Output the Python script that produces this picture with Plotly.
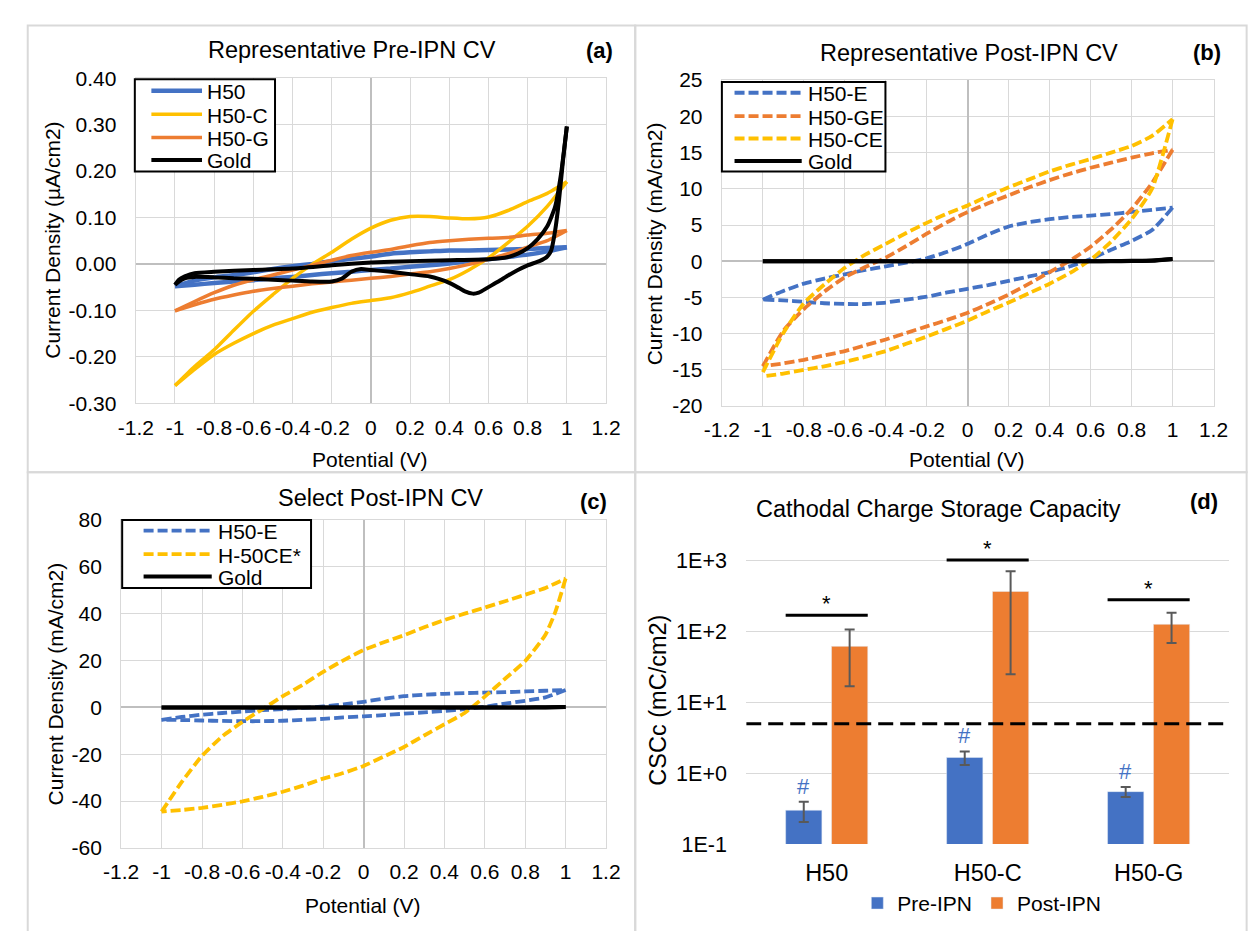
import math
import plotly.graph_objects as go

W, H = 1248, 931
def fx(p):
    return p / W
def fy(p):
    return 1 - p / H

FONT = "Liberation Sans, Arial, sans-serif"
BLUE = "#4472C4"
ORANGE = "#ED7D31"
YELLOW = "#FFC000"
BLACK = "#000000"
GRID = "#D9D9D9"

# ---------------- data ----------------
v_fwd = [-1.0, -0.9, -0.8, -0.7, -0.6, -0.5, -0.4, -0.3, -0.2, -0.1, 0.0,
         0.1, 0.2, 0.3, 0.4, 0.5, 0.6, 0.7, 0.8, 0.9, 1.0]
v_rev = [1.0, 0.9, 0.8, 0.7, 0.6, 0.5, 0.4, 0.3, 0.2, 0.1, 0.0,
         -0.1, -0.2, -0.3, -0.4, -0.5, -0.6, -0.7, -0.8, -0.9, -1.0]

# (a) pre-IPN, uA/cm2
a_h50_fwd = [-0.048, -0.036, -0.029, -0.024, -0.018, -0.011, -0.005, 0.000, 0.006, 0.011, 0.016,
             0.022, 0.025, 0.027, 0.029, 0.029, 0.030, 0.031, 0.032, 0.034, 0.036]
a_h50_rev = [0.036, 0.027, 0.020, 0.015, 0.010, 0.006, 0.001, -0.003, -0.006, -0.010, -0.013,
             -0.017, -0.020, -0.024, -0.028, -0.031, -0.035, -0.038, -0.041, -0.045, -0.048]
a_h50c_fwd = [-0.262, -0.221, -0.185, -0.143, -0.102, -0.066, -0.031, -0.001, 0.025, 0.053, 0.077,
              0.094, 0.102, 0.102, 0.099, 0.097, 0.101, 0.115, 0.134, 0.152, 0.177]
a_h50c_rev = [0.177, 0.124, 0.081, 0.046, 0.013, -0.013, -0.034, -0.048, -0.062, -0.073, -0.079,
              -0.085, -0.094, -0.104, -0.118, -0.132, -0.150, -0.171, -0.195, -0.227, -0.262]
a_h50g_fwd = [-0.101, -0.081, -0.062, -0.046, -0.034, -0.024, -0.013, -0.003, 0.008, 0.018, 0.025,
              0.031, 0.039, 0.046, 0.050, 0.053, 0.055, 0.057, 0.062, 0.066, 0.072]
a_h50g_rev = [0.072, 0.050, 0.036, 0.022, 0.010, -0.001, -0.010, -0.017, -0.022, -0.027, -0.031,
              -0.035, -0.039, -0.043, -0.048, -0.053, -0.059, -0.067, -0.076, -0.088, -0.101]
a_gold_fwd_v = [-1.0, -0.98, -0.95, -0.9, -0.8, -0.6, -0.4, -0.2, 0.0, 0.2, 0.4, 0.6, 0.7, 0.75,
                0.8, 0.85, 0.9, 0.94, 0.97, 1.0]
a_gold_fwd = [-0.045, -0.034, -0.027, -0.020, -0.017, -0.013, -0.010, -0.003, 0.003, 0.006, 0.008,
              0.010, 0.015, 0.022, 0.034, 0.053, 0.081, 0.123, 0.193, 0.296]
a_gold_rev_v = [1.0, 0.98, 0.96, 0.94, 0.92, 0.9, 0.86, 0.8, 0.75, 0.7, 0.65, 0.6, 0.55, 0.52, 0.48,
                0.45, 0.4, 0.35, 0.3, 0.2, 0.1, 0.0, -0.05, -0.1, -0.15, -0.2, -0.3, -0.4, -0.5,
                -0.6, -0.7, -0.8, -0.9, -0.95, -0.98, -1.0]
a_gold_rev = [0.296, 0.221, 0.137, 0.071, 0.029, 0.016, 0.006, -0.003, -0.013, -0.025, -0.038,
              -0.050, -0.062, -0.064, -0.059, -0.052, -0.041, -0.033, -0.027, -0.022, -0.017,
              -0.013, -0.011, -0.017, -0.032, -0.038, -0.038, -0.036, -0.034, -0.032, -0.031,
              -0.029, -0.028, -0.031, -0.038, -0.045]

# (b) post-IPN, mA/cm2
b_e_fwd = [-5.3, -4.1, -3.1, -2.4, -1.8, -1.2, -0.7, -0.2, 0.4, 1.3, 2.4,
           3.7, 4.8, 5.4, 5.8, 6.1, 6.3, 6.5, 6.8, 7.1, 7.4]
b_e_rev = [7.4, 4.3, 2.8, 1.6, 0.3, -0.7, -1.5, -2.1, -2.7, -3.3, -3.8,
           -4.3, -4.9, -5.3, -5.7, -5.9, -5.9, -5.8, -5.6, -5.4, -5.3]
b_ge_fwd = [-14.5, -9.6, -6.6, -4.2, -2.2, -0.8, 0.5, 2.1, 3.8, 5.4, 6.8,
            8.0, 9.1, 10.2, 11.2, 12.1, 12.9, 13.6, 14.3, 14.9, 15.4]
b_ge_rev = [15.4, 10.8, 7.2, 4.4, 2.0, 0.1, -1.5, -3.1, -4.6, -5.9, -7.1,
            -8.1, -9.0, -9.9, -10.8, -11.6, -12.4, -13.0, -13.6, -14.1, -14.5]
b_ce_fwd = [-15.3, -9.9, -5.8, -3.2, -0.9, 0.9, 2.4, 3.9, 5.3, 6.6, 7.7,
            9.0, 10.2, 11.3, 12.4, 13.3, 14.1, 15.0, 15.9, 17.3, 19.6]
b_ce_rev = [19.6, 10.0, 5.8, 2.7, 0.2, -1.6, -3.1, -4.4, -5.7, -6.9, -8.2,
            -9.3, -10.4, -11.4, -12.4, -13.2, -13.9, -14.5, -15.0, -15.5, -15.9]
b_gold_fwd = [0.0, 0.0, 0.0, 0.0, 0.0, 0.0, 0.0, 0.0, 0.0, 0.0, 0.0,
              0.0, 0.0, 0.0, 0.0, 0.0, 0.0, 0.02, 0.05, 0.1, 0.3]
b_gold_rev = [0.3, 0.05, 0.02, 0.0, 0.0, 0.0, 0.0, 0.0, 0.0, 0.0, 0.0,
              0.0, 0.0, 0.0, 0.0, 0.0, 0.0, 0.0, 0.0, 0.0, 0.0]

# (c) select post-IPN, mA/cm2
c_ce_fwd = [-44.5, -31.8, -20.7, -12.4, -6.2, -0.7, 4.8, 9.7, 15.2, 20.1, 24.5,
            27.8, 30.8, 34.2, 37.3, 40.0, 42.6, 45.3, 48.1, 51.0, 55.0]
c_ce_rev_v = [1.0, 0.95, 0.9, 0.8, 0.7, 0.6, 0.5, 0.4, 0.3, 0.2, 0.1, 0.0,
              -0.1, -0.2, -0.3, -0.4, -0.5, -0.6, -0.7, -0.8, -0.9, -1.0]
c_ce_rev = [55.0, 41.0, 31.0, 19.8, 12.2, 4.6, -2.4, -7.2, -12.0, -16.9, -21.0, -25.0,
            -28.0, -30.4, -33.4, -36.0, -38.2, -40.1, -41.6, -42.9, -43.8, -44.5]
c_gold_fwd = [0.0, 0.0, 0.0, 0.0, 0.0, 0.0, 0.0, 0.0, 0.0, 0.0, 0.0,
              0.0, 0.0, 0.0, 0.0, 0.0, 0.0, 0.0, 0.0, 0.1, 0.2]
c_gold_rev = [0.2, 0.0, 0.0, 0.0, 0.0, 0.0, 0.0, 0.0, 0.0, 0.0, 0.0,
              0.0, 0.0, 0.0, 0.0, 0.0, 0.0, 0.0, 0.0, 0.0, 0.0]

# (d) cathodal charge storage capacity, mC/cm2
categories = ["H50", "H50-C", "H50-G"]
cat_pos = [0, 1, 2]
pre_ipn = [0.30, 1.67, 0.55]
pre_err = [0.095, 0.36, 0.09]
post_ipn = [62, 370, 127]
post_err = [45, 345, 58]
sig_y = [170, 1030, 282]
threshold = 5.0

x_tick_vals = [-1.2, -1.0, -0.8, -0.6, -0.4, -0.2, 0.0, 0.2, 0.4, 0.6, 0.8, 1.0, 1.2]
x_tick_text = ["-1.2", "-1", "-0.8", "-0.6", "-0.4", "-0.2", "0", "0.2", "0.4", "0.6", "0.8", "1", "1.2"]
a_y_ticks = [-0.3, -0.2, -0.1, 0.0, 0.1, 0.2, 0.3, 0.4]
a_y_text = ["-0.30", "-0.20", "-0.10", "0.00", "0.10", "0.20", "0.30", "0.40"]
b_y_ticks = [-20, -15, -10, -5, 0, 5, 10, 15, 20, 25]
c_y_ticks = [-60, -40, -20, 0, 20, 40, 60, 80]
d_y_ticks = [0.1, 1, 10, 100, 1000]
d_y_text = ["1E-1", "1E+0", "1E+1", "1E+2", "1E+3"]

# ---------------- figure ----------------
fig = go.Figure()
DASH = "10px,4px"

def loop(xf, yf, xr, yr, color, width, dash, xa, ya):
    dstyle = "solid" if dash is None else dash
    for xs, ys in ((xf, yf), (xr, yr)):
        fig.add_trace(go.Scatter(x=xs, y=ys, mode="lines", showlegend=False, xaxis=xa, yaxis=ya,
                                 line=dict(color=color, width=width, dash=dstyle,
                                           shape="spline", smoothing=0.5)))

# (a)
loop(v_fwd, a_h50_fwd, v_rev, a_h50_rev, BLUE, 4.5, None, "x", "y")
loop(v_fwd, a_h50c_fwd, v_rev, a_h50c_rev, YELLOW, 3.5, None, "x", "y")
loop(v_fwd, a_h50g_fwd, v_rev, a_h50g_rev, ORANGE, 3.5, None, "x", "y")
loop(a_gold_fwd_v, a_gold_fwd, a_gold_rev_v, a_gold_rev, BLACK, 4, None, "x", "y")
# (b)
loop(v_fwd, b_e_fwd, v_rev, b_e_rev, BLUE, 3.8, DASH, "x2", "y2")
loop(v_fwd, b_ge_fwd, v_rev, b_ge_rev, ORANGE, 3.8, DASH, "x2", "y2")
loop(v_fwd, b_ce_fwd, v_rev, b_ce_rev, YELLOW, 3.8, DASH, "x2", "y2")
loop(v_fwd, b_gold_fwd, v_rev, b_gold_rev, BLACK, 4, None, "x2", "y2")
# (c)
loop(v_fwd, b_e_fwd, v_rev, b_e_rev, BLUE, 3.8, DASH, "x3", "y3")
loop(v_fwd, c_ce_fwd, c_ce_rev_v, c_ce_rev, YELLOW, 3.8, DASH, "x3", "y3")
loop(v_fwd, c_gold_fwd, v_rev, c_gold_rev, BLACK, 4, None, "x3", "y3")

# (d)
fig.add_trace(go.Bar(x=cat_pos, y=pre_ipn, name="Pre-IPN", marker_color=BLUE,
                     error_y=dict(type="data", array=pre_err, color="#595959", thickness=2, width=5),
                     xaxis="x4", yaxis="y4"))
fig.add_trace(go.Bar(x=cat_pos, y=post_ipn, name="Post-IPN", marker_color=ORANGE,
                     error_y=dict(type="data", array=post_err, color="#595959", thickness=2, width=5),
                     xaxis="x4", yaxis="y4"))
fig.add_trace(go.Scatter(x=[-0.5, 2.5], y=[threshold, threshold], mode="lines", showlegend=False,
                         line=dict(color=BLACK, width=3, dash="15px,7px"),
                         xaxis="x4", yaxis="y4", hoverinfo="skip"))
sx, sy = [], []
for p, s in zip(cat_pos, sig_y):
    sx += [p - 0.255, p + 0.255, None]
    sy += [s, s, None]
fig.add_trace(go.Scatter(x=sx, y=sy, mode="lines", showlegend=False, cliponaxis=False,
                         line=dict(color=BLACK, width=3), xaxis="x4", yaxis="y4", hoverinfo="skip"))

# ---------------- axes ----------------
tick_font = dict(family=FONT, size=21, color="black")

def cv_axes(xkey, ykey, xdom, ydom, yrange, yticks, ytext, xanchor, yanchor):
    fig.layout[xkey] = dict(domain=[fx(xdom[0]), fx(xdom[1])], anchor=yanchor, range=[-1.2, 1.2],
                            tickvals=x_tick_vals, ticktext=x_tick_text, tickfont=tick_font,
                            showgrid=True, gridcolor=GRID, gridwidth=1.3,
                            zeroline=True, zerolinecolor="#BFBFBF", zerolinewidth=1.5,
                            showline=True, mirror=True, linecolor=GRID, linewidth=1.3,
                            ticks="outside", ticklen=5, tickcolor="rgba(0,0,0,0)", fixedrange=True)
    fig.layout[ykey] = dict(domain=[fy(ydom[1]), fy(ydom[0])], anchor=xanchor, range=yrange,
                            tickvals=yticks, ticktext=ytext, tickfont=tick_font,
                            showgrid=True, gridcolor=GRID, gridwidth=1.3,
                            zeroline=True, zerolinecolor="#BFBFBF", zerolinewidth=1.5,
                            showline=True, mirror=True, linecolor=GRID, linewidth=1.3,
                            ticks="outside", ticklen=14, tickcolor="rgba(0,0,0,0)", fixedrange=True)

cv_axes("xaxis", "yaxis", (121, 604), (68, 402), [-0.30, 0.40], a_y_ticks, a_y_text, "x", "y")
cv_axes("xaxis2", "yaxis2", (723, 1228), (70, 405), [-20, 25], b_y_ticks,
        [str(v) for v in b_y_ticks], "x2", "y2")
cv_axes("xaxis3", "yaxis3", (106, 604), (522, 859), [-60, 80], c_y_ticks,
        [str(v) for v in c_y_ticks], "x3", "y3")

d_top = 564 - 0.1 * 72.75
fig.layout["xaxis4"] = dict(domain=[fx(748), fx(1244)], anchor="y4", range=[-0.5, 2.5],
                            tickvals=cat_pos, ticktext=categories,
                            tickfont=dict(family=FONT, size=23.5, color="black"),
                            showgrid=False, zeroline=False, showline=False,
                            ticks="outside", ticklen=8, tickcolor="rgba(0,0,0,0)", fixedrange=True)
fig.layout["yaxis4"] = dict(domain=[fy(855), fy(d_top)], anchor="x4", type="log", range=[-1, 3.1],
                            tickvals=d_y_ticks, ticktext=d_y_text,
                            tickfont=dict(family=FONT, size=21.5, color="black"),
                            showgrid=True, gridcolor=GRID, gridwidth=1.3, zeroline=False,
                            showline=False, ticks="outside", ticklen=14,
                            tickcolor="rgba(0,0,0,0)", fixedrange=True)

fig.update_layout(
    legend=dict(x=fx(990), y=fy(916), xanchor="center", yanchor="middle", orientation="h",
                bgcolor="rgba(0,0,0,0)", font=dict(family=FONT, size=21, color="black"),
                itemclick=False, itemdoubleclick=False),
)

# ---------------- annotations & decorations ----------------
ann = []
shapes = []

def text(x, y, s, size, bold=False, angle=0, color="black", anchor="center"):
    ann.append(dict(x=fx(x), y=fy(y), xref="paper", yref="paper", text=("<b>%s</b>" % s) if bold else s,
                    showarrow=False, xanchor=anchor, yanchor="middle", textangle=angle,
                    font=dict(family=FONT, size=size, color=color)))

text(343, 39, "Representative Pre-IPN CV", 23.5)
text(977, 42, "Representative Post-IPN CV", 23.5)
text(372, 499, "Select Post-IPN CV", 23.5)
text(946, 511, "Cathodal Charge Storage Capacity", 23.5)
text(597, 40, "(a)", 22, bold=True)
text(1221, 42, "(b)", 22, bold=True)
text(591, 503, "(c)", 22, bold=True)
text(1218, 503, "(d)", 22, bold=True)
text(362, 460, "Potential (V)", 21)
text(975, 460, "Potential (V)", 21)
text(354, 918, "Potential (V)", 21)
text(36, 235, "Current Density (µA/cm2)", 21, angle=-90)
text(654, 238, "Current Density (mA/cm2)", 21, angle=-90)
text(38, 690, "Current Density (mA/cm2)", 21, angle=-90)
text(657, 707, "CSCc (mC/cm2)", 23.5, angle=-90)

for p, v, e in zip(cat_pos, pre_ipn, pre_err):
    ann.append(dict(x=p - 0.142, y=math.log10(v + e), xref="x4", yref="y4", text="#",
                    showarrow=False, yanchor="bottom", yshift=1,
                    font=dict(family=FONT, size=22, color=BLUE)))
for p, s in zip(cat_pos, sig_y):
    ann.append(dict(x=p, y=math.log10(s), xref="x4", yref="y4", text="*",
                    showarrow=False, yanchor="bottom", yshift=-3,
                    font=dict(family=FONT, size=22, color="black")))

# panel frames (right / bottom edges run off the canvas, as in the original)
for (x0, y0, x1, y1) in [(10, 14, 634, 473), (634, 14, 1262, 473), (10, 473, 634, 946), (634, 473, 1262, 946)]:
    shapes.append(dict(type="rect", xref="paper", yref="paper", x0=fx(x0), x1=fx(x1),
                       y0=fy(y1), y1=fy(y0), line=dict(color=GRID, width=2), layer="below"))

# boxed legends for the CV panels (Excel style, long line samples)
legend_a = [("H50", BLUE, 4.5, "solid"), ("H50-C", YELLOW, 3.5, "solid"),
            ("H50-G", ORANGE, 3.5, "solid"), ("Gold", BLACK, 4, "solid")]
legend_b = [("H50-E", BLUE, 3.8, DASH), ("H50-GE", ORANGE, 3.8, DASH),
            ("H50-CE", YELLOW, 3.8, DASH), ("Gold", BLACK, 4, "solid")]
legend_c = [("H50-E", BLUE, 3.8, DASH), ("H-50CE*", YELLOW, 3.8, DASH), ("Gold", BLACK, 4, "solid")]

def boxed_legend(entries, box, sample, text_x, rows):
    bx0, by0, bx1, by1 = box
    shapes.append(dict(type="rect", xref="paper", yref="paper", x0=fx(bx0), x1=fx(bx1),
                       y0=fy(by1), y1=fy(by0), line=dict(color="black", width=2),
                       fillcolor="white", layer="above"))
    for (name, color, width, dash), ry in zip(entries, rows):
        shapes.append(dict(type="line", xref="paper", yref="paper", x0=fx(sample[0]), x1=fx(sample[1]),
                           y0=fy(ry), y1=fy(ry), line=dict(color=color, width=width, dash=dash),
                           layer="above"))
        text(text_x, ry + 1, name, 21, anchor="left")

boxed_legend(legend_a, (120, 69, 264, 164), (137, 189), 192, [81, 105, 129, 152])
boxed_legend(legend_b, (723, 72, 891, 164), (736, 805), 809, [83, 107, 130, 153])
boxed_legend(legend_c, (107, 522, 301, 592), (129, 199), 203, [533, 557, 580])

fig.update_layout(
    width=W, height=H, margin=dict(l=0, r=0, t=0, b=0),
    paper_bgcolor="white", plot_bgcolor="white",
    barmode="group", bargap=0.43, bargroupgap=0.21,
    annotations=ann, shapes=shapes,
    font=dict(family=FONT, color="black"),
)

fig.write_html("out.html")
